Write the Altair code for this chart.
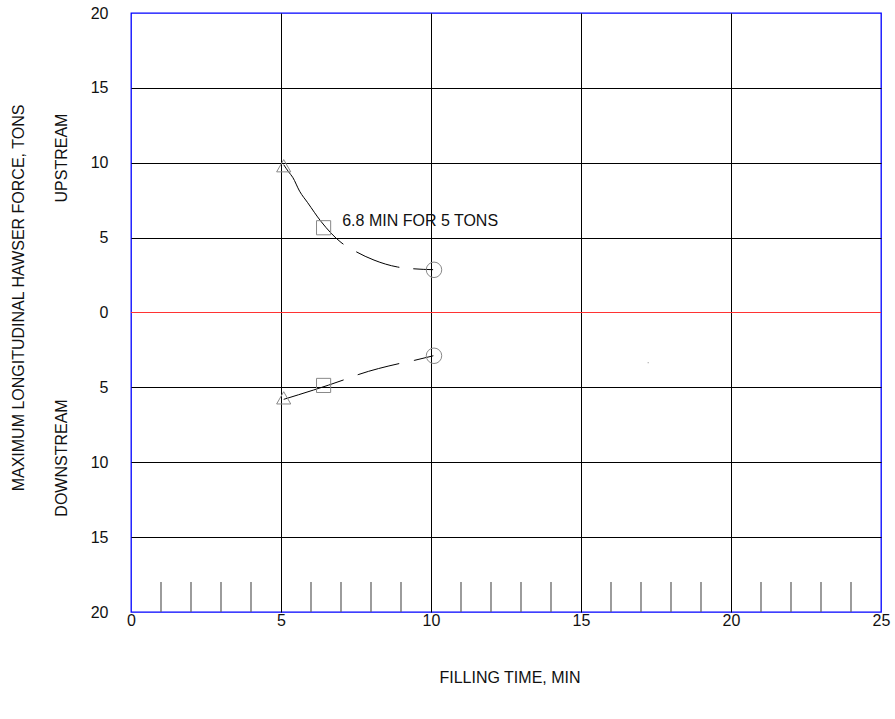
import altair as alt
import pandas as pd

# Upstream curve (filling time, force)
up_x = [5.09, 5.25, 5.39, 5.62, 5.89, 6.33, 7.0, 7.44, 8.1, 8.88, 9.35, 10.07]
up_y = [9.87, 9.4, 9.03, 8.1, 7.33, 6.09, 4.68, 4.13, 3.5, 3.04, 2.93, 2.86]
# Downstream curve (negative = downstream)
dn_x = [5.09, 7.09, 7.57, 8.94, 9.44, 10.08]
dn_y = [-5.8, -4.5, -4.15, -3.41, -3.2, -2.89]

# Markers
tri_x = [5.09, 5.09]
tri_y = [9.8, -5.7]
sq_x = [6.42, 6.42]
sq_y = [5.66, -4.87]
circ_x = [10.1, 10.1]
circ_y = [2.85, -2.89]

minor_x = [1, 2, 3, 4, 6, 7, 8, 9, 11, 12, 13, 14, 16, 17, 18, 19, 21, 22, 23, 24]
x_ticks = [0, 5, 10, 15, 20, 25]
y_ticks = [-20, -15, -10, -5, 0, 5, 10, 15, 20]

annot_text = "6.8 MIN FOR 5 TONS"
annot_x, annot_y = 7.04, 6.13

FONT = "Liberation Sans"
TXT = "#111"
FS = 16

xs = alt.Scale(domain=[0, 25], nice=False, zero=False)
ys = alt.Scale(domain=[-20, 20], nice=False, zero=False)

xaxis = alt.Axis(values=x_ticks, title=None, grid=True, ticks=False, domain=False,
                 labelPadding=0, labelFont=FONT, labelFontSize=FS, labelColor=TXT,
                 labelFlush=False,
                 gridColor="black", gridWidth=1,
                 gridOpacity={"condition": {"test": "datum.value == 0 || datum.value == 25", "value": 0}, "value": 1})
yaxis = alt.Axis(values=y_ticks, title=None, grid=True, ticks=False, domain=False,
                 labelPadding=23, labelFont=FONT, labelFontSize=FS, labelColor=TXT,
                 labelExpr="abs(datum.value)", labelFlush=False,
                 gridColor="black", gridWidth=1,
                 gridOpacity={"condition": {"test": "abs(datum.value) == 20 || datum.value == 0", "value": 0}, "value": 1})

base = alt.Chart(pd.DataFrame({"x": [0], "y": [0]}))

axes_layer = base.mark_point(opacity=0).encode(
    x=alt.X("x:Q", scale=xs, axis=xaxis),
    y=alt.Y("y:Q", scale=ys, axis=yaxis),
)

zero_line = alt.Chart(pd.DataFrame({"y": [0]})).mark_rule(color="#ff3333", strokeWidth=1).encode(
    y=alt.Y("y:Q", scale=ys), x=alt.value(0), x2=alt.value(750))

minor = alt.Chart(pd.DataFrame({"x": minor_x, "y": [-20] * len(minor_x), "y2": [-18] * len(minor_x)})).mark_rule(
    color="#666", strokeWidth=1.3).encode(
    x=alt.X("x:Q", scale=xs), y=alt.Y("y:Q", scale=ys), y2="y2:Q")

up_line = alt.Chart(pd.DataFrame({"x": up_x, "y": up_y, "o": list(range(len(up_x)))})).mark_line(
    color="black", strokeWidth=1, interpolate="monotone", strokeDash=[100, 15, 46, 14]).encode(
    x=alt.X("x:Q", scale=xs), y=alt.Y("y:Q", scale=ys), order="o:Q")

dn_line = alt.Chart(pd.DataFrame({"x": dn_x, "y": dn_y, "o": list(range(len(dn_x)))})).mark_line(
    color="black", strokeWidth=1, interpolate="monotone", strokeDash=[63, 15, 43, 15]).encode(
    x=alt.X("x:Q", scale=xs), y=alt.Y("y:Q", scale=ys), order="o:Q")

def markers(mx, my, shape, size):
    return alt.Chart(pd.DataFrame({"x": mx, "y": my})).mark_point(
        shape=shape, size=size, filled=False, color="#888", strokeWidth=1, opacity=1).encode(
        x=alt.X("x:Q", scale=xs), y=alt.Y("y:Q", scale=ys))

tri = markers(tri_x, tri_y, "triangle-up", 200)
sq = markers(sq_x, sq_y, "square", 200)
circ = markers(circ_x, circ_y, "circle", 240)

dot = alt.Chart(pd.DataFrame({"x": [17.24], "y": [-3.35]})).mark_point(
    shape="circle", size=2, filled=True, color="#888").encode(
    x=alt.X("x:Q", scale=xs), y=alt.Y("y:Q", scale=ys))

annot = alt.Chart(pd.DataFrame({"x": [annot_x], "y": [annot_y], "t": [annot_text]})).mark_text(
    align="left", baseline="middle", font=FONT, fontSize=FS, color=TXT).encode(
    x=alt.X("x:Q", scale=xs), y=alt.Y("y:Q", scale=ys), text="t:N")

def label(txt, px, py, angle=0):
    return alt.Chart(pd.DataFrame({"t": [txt]})).mark_text(
        align="center", baseline="middle", font=FONT, fontSize=FS, color=TXT, angle=angle).encode(
        x=alt.value(px), y=alt.value(py), text="t:N")

xtitle = label("FILLING TIME, MIN", 379, 665)
ytitle = label("MAXIMUM LONGITUDINAL HAWSER FORCE, TONS", -112, 285, 270)
upl = label("UPSTREAM", -69, 145, 270)
dnl = label("DOWNSTREAM", -69, 445, 270)

chart = alt.layer(axes_layer, minor, zero_line, up_line, dn_line, tri, sq, circ, dot, annot,
                  xtitle, ytitle, upl, dnl).properties(
    width=750, height=599,
    autosize=alt.AutoSizeParams(type="none"),
    padding={"left": 131, "top": 13, "right": 14, "bottom": 107},
    background="white",
).configure_view(stroke="#0000ff", strokeWidth=1.3)

chart.save("out.html", embed_options={"renderer": "svg", "actions": False})
